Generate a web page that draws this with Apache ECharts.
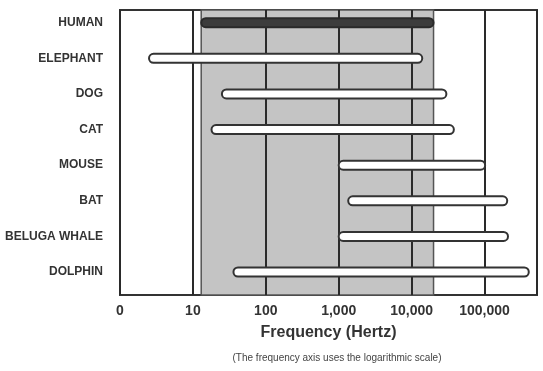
<!DOCTYPE html>
<html>
<head>
<meta charset="utf-8">
<script src="https://cdn.jsdelivr.net/npm/echarts@6/dist/echarts.min.js"></script>
<style>html,body{margin:0;padding:0;background:#fff}#c{width:543px;height:371px}</style>
</head>
<body>
<div id="c"></div>
<script>
const categories = ['HUMAN','ELEPHANT','DOG','CAT','MOUSE','BAT','BELUGA WHALE','DOLPHIN'];
const lowHz  = [13, 2.5, 25, 18, 1000, 1350, 1000, 36];
const highHz = [20000, 14000, 30000, 38000, 102000, 205000, 210000, 405000];
const humanBand = [13, 20000];
const tickLabels = ['0','10','100','1,000','10,000','100,000'];
const axisMin = 1, axisMax = 525000;

const barData = categories.map((c, i) => [lowHz[i], highHz[i], c]);
const FONT = 'Liberation Sans, Arial, sans-serif';

const chart = echarts.init(document.getElementById('c'), null, {renderer: 'canvas'});
chart.setOption({
  animation: false,
  backgroundColor: '#fff',
  grid: [
    {left: 120, right: 6, top: 10, bottom: 76, show: true, borderColor: '#333', borderWidth: 2, backgroundColor: 'transparent'},
    {left: 120, right: 6, top: 4.9, bottom: 81.2, show: false}
  ],
  xAxis: [
    {
      type: 'log', gridIndex: 0, min: axisMin, max: axisMax, logBase: 10, z: 5,
      axisLine: {show: false}, axisTick: {show: false},
      splitLine: {show: true, lineStyle: {color: '#2a2a2a', width: 2}},
      axisLabel: {
        margin: 9, color: '#333', fontFamily: FONT, fontWeight: 'bold', fontSize: 14,
        formatter: v => tickLabels[Math.round(Math.log10(v))] ?? ''
      },
      name: 'Frequency (Hertz)', nameLocation: 'middle', nameGap: 30,
      nameTextStyle: {color: '#333', fontFamily: FONT, fontWeight: 'bold', fontSize: 16}
    },
    {
      type: 'log', gridIndex: 1, min: axisMin, max: axisMax, logBase: 10,
      axisLine: {show: false}, axisTick: {show: false}, axisLabel: {show: false}, splitLine: {show: false}
    }
  ],
  yAxis: [
    {type: 'value', gridIndex: 0, min: 0, max: 1, show: false, splitLine: {show: false}},
    {
      type: 'category', gridIndex: 1, data: categories, inverse: true,
      axisLine: {show: false}, axisTick: {show: false}, splitLine: {show: false},
      axisLabel: {margin: 17, color: '#333', fontFamily: FONT, fontWeight: 'bold', fontSize: 12}
    }
  ],
  graphic: [{
    type: 'text', x: 337, y: 358,
    style: {text: '(The frequency axis uses the logarithmic scale)', font: '10px ' + FONT, fill: '#444', align: 'center', verticalAlign: 'middle'}
  }],
  series: [
    {
      type: 'line', xAxisIndex: 0, yAxisIndex: 0, data: [], z: 1, silent: true,
      markArea: {
        silent: true,
        itemStyle: {color: '#c4c4c4', borderColor: '#555', borderWidth: 1.5},
        data: [[{xAxis: humanBand[0]}, {xAxis: humanBand[1]}]]
      }
    },
    {
      type: 'custom', xAxisIndex: 1, yAxisIndex: 1, z: 10,
      data: barData,
      encode: {x: [0, 1], y: 2},
      renderItem: function (params, api) {
        const p0 = api.coord([api.value(0), api.value(2)]);
        const p1 = api.coord([api.value(1), api.value(2)]);
        const h = 9;
        const isHuman = params.dataIndex === 0;
        return {
          type: 'rect',
          shape: {x: p0[0], y: p0[1] - h / 2, width: p1[0] - p0[0], height: h, r: h / 2},
          style: {
            fill: isHuman ? '#3c3c3c' : '#fff',
            stroke: isHuman ? '#2a2a2a' : '#333',
            lineWidth: 2
          }
        };
      }
    }
  ]
});
</script>
</body>
</html>
